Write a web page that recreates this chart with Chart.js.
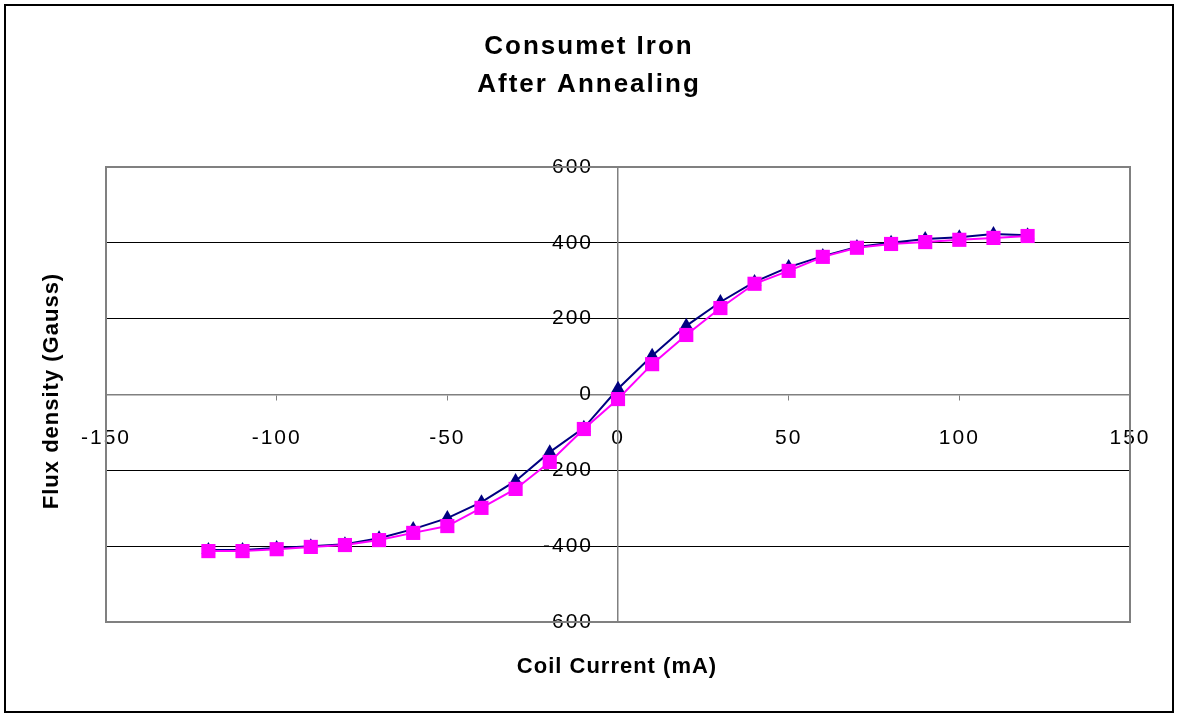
<!DOCTYPE html>
<html>
<head>
<meta charset="utf-8">
<script src="https://cdn.jsdelivr.net/npm/chart.js@4.4.0/dist/chart.umd.min.js"></script>
<style>
  html, body { margin: 0; padding: 0; background: #fff; }
  #wrap { position: relative; width: 1178px; height: 717px; }
  #frame { position: absolute; left: 4px; top: 4px; width: 1170px; height: 709px; border: 2px solid #000; box-sizing: border-box; pointer-events: none; }
</style>
</head>
<body>
<div id="wrap">
  <canvas id="chart" width="1178" height="717"></canvas>
  <div id="frame"></div>
</div>
<script>
// coil current (mA) and flux density readings
const current = [-120, -110, -100, -90, -80, -70, -60, -50, -40, -30, -20, -10, 0,
                 10, 20, 30, 40, 50, 60, 70, 80, 90, 100, 110, 120];
const fluxUp = [-410, -410, -405, -400, -395, -379, -355, -326, -284, -228, -152, -88, 15,
                102, 181, 244, 297, 336, 365, 389, 400, 410, 415, 423, 420];
const fluxDown = [-413, -413, -408, -402, -397, -384, -365, -347, -299, -249, -178, -91, -12,
                  80, 157, 228, 292, 326, 363, 387, 397, 402, 408, 413, 418];
const titleLines = ['Consumet Iron', 'After Annealing'];
const xTitle = 'Coil Current (mA)';
const yTitle = 'Flux density (Gauss)';

const font = "'Liberation Sans', Arial, sans-serif";

const toPoints = (ys) => current.map((x, i) => ({ x: x, y: ys[i] }));

// excel spreads its text a bit wider
const spacing = {
    id: 'spacing',
    beforeDraw(chart) {
        chart.ctx.letterSpacing = '2px';
    }
};

// plot frame, chart title (centred on the whole page, not the plot) and axis titles
const extras = {
    id: 'extras',
    afterDraw(chart) {
        const { ctx, chartArea } = chart;
        ctx.save();
        ctx.strokeStyle = '#808080';
        ctx.lineWidth = 2;
        ctx.strokeRect(chartArea.left, chartArea.top, chartArea.right - chartArea.left, chartArea.bottom - chartArea.top);
        ctx.fillStyle = '#000';
        ctx.textAlign = 'center';
        ctx.textBaseline = 'middle';
        ctx.letterSpacing = '2px';
        ctx.font = 'bold 26px ' + font;
        titleLines.forEach((t, i) => ctx.fillText(t, chart.width / 2, 47 + i * 38));
        ctx.letterSpacing = '1px';
        ctx.font = 'bold 22px ' + font;
        ctx.fillText(xTitle, 617, 667);
        ctx.translate(52, 391);
        ctx.rotate(-Math.PI / 2);
        ctx.fillText(yTitle, 0, 0);
        ctx.restore();
    }
};

new Chart(document.getElementById('chart').getContext('2d'), {
    type: 'scatter',
    data: {
        datasets: [{
            data: toPoints(fluxUp),
            showLine: true,
            borderColor: '#000080',
            backgroundColor: '#000080',
            borderWidth: 2,
            pointStyle: 'triangle',
            pointRadius: 8,
            pointBorderWidth: 0,
            order: 1
        }, {
            data: toPoints(fluxDown),
            showLine: true,
            borderColor: '#ff00ff',
            backgroundColor: '#ff00ff',
            borderWidth: 2,
            pointStyle: 'rect',
            pointRadius: 10,
            pointBorderWidth: 0,
            order: 0
        }]
    },
    plugins: [spacing, extras],
    options: {
        responsive: false,
        animation: false,
        layout: { padding: { left: 106, right: 48, top: 167, bottom: 95 } },
        plugins: {
            legend: { display: false },
            tooltip: { enabled: false },
            title: { display: false }
        },
        scales: {
            x: {
                type: 'linear',
                min: -150,
                max: 150,
                position: { y: 0 },
                grid: { drawOnChartArea: false, color: '#808080', tickLength: 5 },
                border: { color: '#808080', width: 1.5 },
                ticks: { stepSize: 50, color: '#000', padding: 26, font: { family: font, size: 21 } }
            },
            y: {
                type: 'linear',
                min: -600,
                max: 600,
                position: { x: 0 },
                grid: { color: '#000', lineWidth: 1, tickLength: 8 },
                border: { color: '#808080', width: 1.5 },
                ticks: {
                    stepSize: 200,
                    color: '#000',
                    font: { family: font, size: 21 },
                    // labels sit left of the centred axis, padding is ignored there
                    callback: (v) => v + '\u2002\u2002'
                }
            }
        }
    }
});
</script>
</body>
</html>
